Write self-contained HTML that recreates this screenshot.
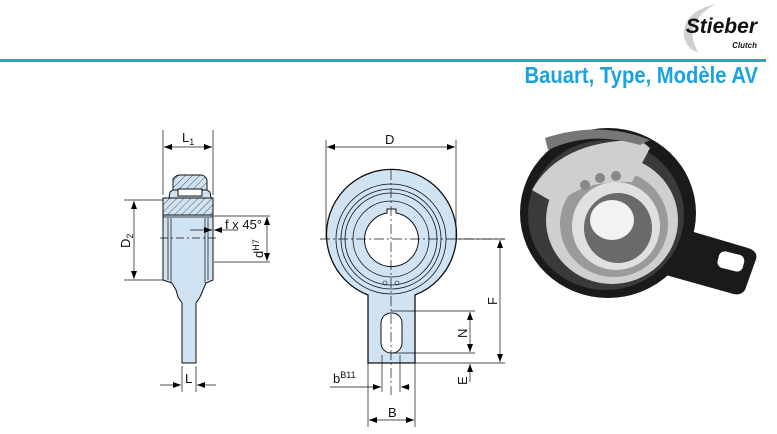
<!DOCTYPE html>
<html><head><meta charset="utf-8"><style>
body{margin:0;width:777px;height:434px;background:#fff;overflow:hidden;font-family:"Liberation Sans",sans-serif}
svg{position:absolute;left:0;top:0}
</style></head><body>
<svg width="777" height="434" viewBox="0 0 777 434" font-family="Liberation Sans, sans-serif">
<defs>
<marker id="a" markerWidth="8" markerHeight="6" refX="8" refY="3" orient="auto-start-reverse" markerUnits="userSpaceOnUse"><path d="M0,0 L8,3 L0,6 z" fill="#000"/></marker>
<pattern id="h" width="5" height="5" patternUnits="userSpaceOnUse" patternTransform="rotate(45)"><rect width="5" height="5" fill="#cfe3f3"/><line x1="0" y1="0" x2="0" y2="5" stroke="#333" stroke-width="0.8"/></pattern>
</defs>
<!-- header -->
<rect x="0" y="59" width="766" height="3" fill="#1aa3e0"/>
<path d="M716,4 Q682,12 684,36 Q687,50 698,52 Q690,38 694,26 Q700,12 716,4z" fill="#d0d0d0"/>
<text x="757" y="33" text-anchor="end" font-size="21" font-weight="bold" font-style="italic" fill="#111">Stieber</text>
<text x="757" y="48" text-anchor="end" font-size="8" font-weight="bold" font-style="italic" fill="#111">Clutch</text>
<text x="758" y="83" text-anchor="end" font-size="23" font-weight="bold" fill="#1aa3e0" transform="translate(758 0) scale(0.88 1) translate(-758 0)">Bauart, Type, Modèle AV</text>

<!-- side view -->
<g stroke="#111" stroke-width="1" fill="#cfe3f3">
<path d="M182,363 L182,303 L178,297 L176,290 L172,283 L163,280 L163,198 L213,198 L213,280 L206,283 L203,290 L200,297 L196,303 L196,363 Z"/>
<rect x="163" y="198" width="50" height="17" fill="url(#h)"/>
<path d="M173,190 L173,179 Q176,175 180,175 L201,175 Q205,175 207,180 L207,190 Z" fill="url(#h)"/>
<path d="M169,198 L170,192 L173,190 L207,190 L210,192 L211,198 Z" fill="#cfe3f3"/>
<rect x="178" y="189" width="24" height="7" fill="#fff"/>
</g>
<g stroke="#111" stroke-width="0.7" fill="none">
<line x1="168" y1="218" x2="168" y2="280"/><line x1="171" y1="218" x2="171" y2="283"/>
<line x1="208" y1="218" x2="208" y2="280"/><line x1="205" y1="218" x2="205" y2="283"/>
<line x1="163" y1="217" x2="213" y2="217"/>
<line x1="160" y1="238" x2="216" y2="238" stroke-dasharray="8,3,2,3"/>
<line x1="163" y1="130" x2="163" y2="195"/><line x1="213" y1="130" x2="213" y2="195"/>
<line x1="164" y1="147" x2="212" y2="147" marker-start="url(#a)" marker-end="url(#a)"/>
<line x1="124" y1="200" x2="163" y2="200"/><line x1="124" y1="280" x2="163" y2="280"/>
<line x1="134" y1="201" x2="134" y2="279" marker-start="url(#a)" marker-end="url(#a)"/>
<line x1="214" y1="216" x2="270" y2="216"/><line x1="214" y1="262" x2="270" y2="262"/>
<line x1="267" y1="217" x2="267" y2="261" marker-start="url(#a)" marker-end="url(#a)"/>
<line x1="190" y1="230" x2="212" y2="230" marker-end="url(#a)"/><line x1="238" y1="230" x2="214" y2="230" marker-end="url(#a)"/>
<line x1="182" y1="366" x2="182" y2="392"/><line x1="196" y1="366" x2="196" y2="392"/>
<line x1="160" y1="385" x2="181" y2="385" marker-end="url(#a)"/><line x1="216" y1="385" x2="197" y2="385" marker-end="url(#a)"/>
</g>
<g font-size="13" fill="#111">
<text x="182" y="142">L<tspan font-size="9" dy="3">1</tspan></text>
<text x="130" y="248" transform="rotate(-90 130 248)">D<tspan font-size="9" dy="3">2</tspan></text>
<text x="225" y="229">f x 45°</text>
<text x="263" y="258" transform="rotate(-90 263 258)">d<tspan font-size="9" dy="-4">H7</tspan></text>
<text x="185" y="383">L</text>
</g>

<!-- front view -->
<path d="M368,295 A65,65 0 1 1 415,295 L415,363 L368,363 Z" fill="#cfe3f3" stroke="#111" stroke-width="1.3"/>
<g fill="none" stroke="#111" stroke-width="0.8">
<circle cx="391" cy="239" r="55"/><circle cx="391" cy="239" r="50"/><circle cx="391" cy="239" r="46"/><circle cx="391" cy="239" r="38"/>
</g>
<path d="M387,213 L387,209 L396,209 L396,213 A27,27 0 1 1 387,213 Z" fill="#fff" stroke="#111" stroke-width="1"/>
<rect x="381" y="313" width="21" height="40" rx="10" fill="#fff" stroke="#111" stroke-width="1"/>
<circle cx="385" cy="283" r="2" fill="none" stroke="#111" stroke-width="0.6"/><circle cx="397" cy="283" r="2" fill="none" stroke="#111" stroke-width="0.6"/>
<g stroke="#111" stroke-width="0.7" fill="none">
<line x1="391" y1="170" x2="391" y2="395" stroke-dasharray="10,3,2,3"/>
<line x1="320" y1="239" x2="505" y2="239" stroke-dasharray="10,3,2,3"/>
<line x1="326" y1="140" x2="326" y2="239"/><line x1="456" y1="140" x2="456" y2="239"/>
<line x1="327" y1="147" x2="455" y2="147" marker-start="url(#a)" marker-end="url(#a)"/>
<line x1="456" y1="239" x2="505" y2="239"/><line x1="415" y1="363" x2="505" y2="363"/>
<line x1="500" y1="240" x2="500" y2="362" marker-start="url(#a)" marker-end="url(#a)"/>
<line x1="391" y1="311" x2="475" y2="311"/><line x1="391" y1="353" x2="475" y2="353"/>
<line x1="470" y1="312" x2="470" y2="352" marker-start="url(#a)" marker-end="url(#a)"/>
<line x1="470" y1="382" x2="470" y2="364" marker-end="url(#a)"/>
<line x1="382" y1="355" x2="382" y2="392"/><line x1="400" y1="355" x2="400" y2="392"/>
<line x1="330" y1="387" x2="381" y2="387" marker-end="url(#a)"/><line x1="410" y1="387" x2="401" y2="387" marker-end="url(#a)"/>
<line x1="368" y1="363" x2="368" y2="427"/><line x1="415" y1="363" x2="415" y2="427"/>
<line x1="369" y1="420" x2="414" y2="420" marker-start="url(#a)" marker-end="url(#a)"/>
</g>
<g font-size="13" fill="#111">
<text x="385" y="144">D</text>
<text x="497" y="305" transform="rotate(-90 497 305)">F</text>
<text x="467" y="338" transform="rotate(-90 467 338)">N</text>
<text x="467" y="385" transform="rotate(-90 467 385)">E</text>
<text x="333" y="383">b<tspan font-size="9" dy="-5">B11</tspan></text>
<text x="388" y="417">B</text>
</g>

<!-- photo -->
<g>
<path d="M660,222 L748,248 Q760,252 755,262 L745,290 Q740,297 730,293 L655,272 Z" fill="#1a1a1a"/>
<rect x="718" y="253" width="26" height="17" rx="6" transform="rotate(14 731 261)" fill="#fff"/>
<ellipse cx="608" cy="213" rx="88" ry="85" fill="#1a1a1a"/>
<ellipse cx="606" cy="215" rx="78" ry="75" fill="#3a3a3a"/>
<ellipse cx="612" cy="220" rx="66" ry="64" fill="#cfcfcf"/>
<ellipse cx="614" cy="224" rx="54" ry="53" fill="#9a9a9a"/>
<ellipse cx="616" cy="226" rx="44" ry="44" fill="#e0e0e0"/>
<ellipse cx="618" cy="228" rx="34" ry="35" fill="#6a6a6a"/>
<ellipse cx="612" cy="220" rx="22" ry="20" fill="#f2f2f2"/>
<path d="M532,190 Q560,140 640,140 L650,148 L632,182 Q580,180 558,205 Z" fill="#cfcfcf"/>
<path d="M545,138 Q600,120 650,140 L640,145 Q590,130 548,150 Z" fill="#777"/>
<circle cx="585" cy="185" r="5" fill="#888"/><circle cx="600" cy="178" r="5" fill="#888"/><circle cx="616" cy="176" r="5" fill="#888"/>
</g>
</svg>
</body></html>
